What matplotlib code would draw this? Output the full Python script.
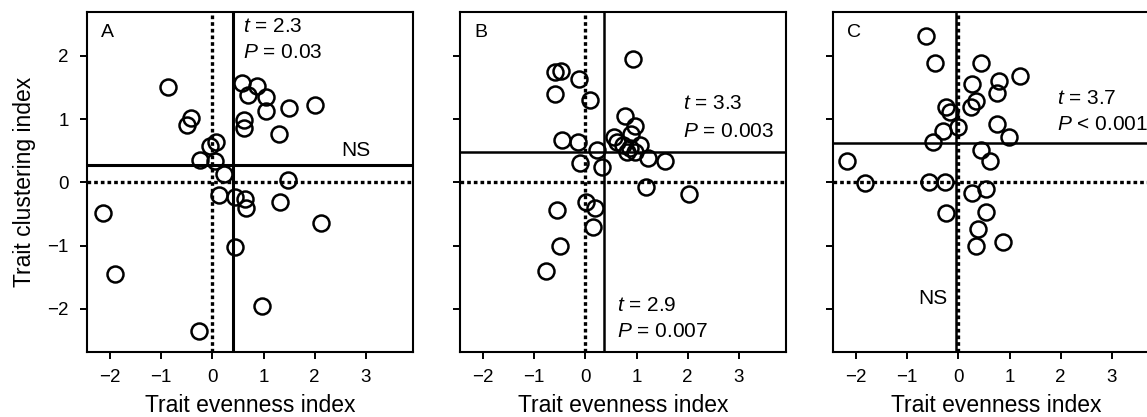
import numpy as np
import matplotlib
matplotlib.use("Agg")
import matplotlib.pyplot as plt

plt.rcParams['font.family'] = ['Liberation Sans', 'DejaVu Sans']
plt.rcParams['mathtext.fontset'] = 'custom'
plt.rcParams['mathtext.rm'] = 'Liberation Sans'
plt.rcParams['mathtext.it'] = 'Liberation Sans:italic'

# panel A
ax_x = [-0.86, -0.42, -0.50, -0.05, 0.07, -0.24, 0.05, 0.23, 0.12, 0.44,
        0.64, 0.66, 1.32, 1.48, 2.12, 0.44, -2.13, -1.91, -0.26, 0.96,
        0.57, 0.87, 0.70, 1.04, 1.04, 1.50, 2.01, 0.61, 0.62, 1.31]
ax_y = [1.51, 1.01, 0.91, 0.58, 0.64, 0.35, 0.33, 0.13, -0.20, -0.23,
        -0.26, -0.41, -0.31, 0.04, -0.65, -1.02, -0.49, -1.45, -2.35, -1.95,
        1.57, 1.52, 1.38, 1.35, 1.13, 1.18, 1.22, 0.98, 0.85, 0.76]
# panel B
bx_x = [0.94, -0.59, -0.48, -0.12, -0.59, 0.09, 0.77, 0.96, 0.90, 0.55,
        0.61, -0.46, -0.14, 0.22, 1.07, 0.81, 0.97, 0.74, 1.23, 1.56,
        -0.10, 0.32, 1.18, 2.03, 0.01, 0.19, -0.55, 0.14, -0.49, -0.76, 0.87]
bx_y = [1.95, 1.75, 1.76, 1.63, 1.39, 1.30, 1.04, 0.89, 0.77, 0.72,
        0.64, 0.67, 0.64, 0.51, 0.59, 0.48, 0.48, 0.59, 0.39, 0.34,
        0.31, 0.24, -0.07, -0.18, -0.31, -0.41, -0.44, -0.71, -1.01, -1.40, 0.54]
# panel C
cx_x = [-0.63, -0.46, 0.44, 1.20, 0.27, 0.80, 0.75, 0.35, 0.25, -0.24,
        -0.16, -0.01, -0.31, -0.50, 0.75, 0.98, 0.44, 0.61, -2.17, -1.82,
        -0.57, -0.26, 0.27, 0.54, -0.24, 0.53, 0.38, 0.35, 0.87]
cx_y = [2.31, 1.89, 1.88, 1.68, 1.56, 1.60, 1.41, 1.28, 1.19, 1.19,
        1.11, 0.88, 0.81, 0.63, 0.92, 0.72, 0.51, 0.34, 0.34, -0.01,
        0.01, 0.01, -0.17, -0.11, -0.48, -0.47, -0.74, -1.01, -0.95]

panel_letters = ['A', 'B', 'C']
vlines = [0.41, 0.37, -0.05]
hlines = [0.27, 0.48, 0.615]
xticks = [-2, -1, 0, 1, 2, 3]
yticks = [-2, -1, 0, 1, 2]

fig = plt.figure(figsize=(11.47, 4.17), dpi=100)
lefts = [87, 460, 833]
data = [(ax_x, ax_y), (bx_x, bx_y), (cx_x, cx_y)]
axes = []
for i, (l, (xs, ys)) in enumerate(zip(lefts, data)):
    ax = fig.add_axes([l / 1147, 65 / 417, 326 / 1147, 340 / 417])
    ax.axvline(0, color='k', lw=2.4, ls=(0, (1.1, 0.9)), zorder=1)
    ax.axhline(0, color='k', lw=2.4, ls=(0, (1.1, 0.9)), zorder=1)
    ax.axvline(vlines[i], color='k', lw=2.2 if i == 0 else 1.8, zorder=2)
    ax.axhline(hlines[i], color='k', lw=2.2 if i == 0 else 1.8, zorder=2)
    ax.plot(xs, ys, 'o', ms=11.5, mfc='none', mec='k', mew=1.8, zorder=3)
    ax.set_xlim(-2.45, 3.92)
    ax.set_ylim(-2.68, 2.69)
    ax.set_xticks(xticks)
    ax.set_yticks(yticks)
    ax.tick_params(direction='out', length=5, width=1.4, labelsize=13.5, pad=7)
    ax.tick_params(axis='y', pad=8)
    for s in ax.spines.values():
        s.set_linewidth(1.5)
    ax.set_xlabel('Trait evenness index', fontsize=16.5, labelpad=6)
    if i == 0:
        ax.set_ylabel('Trait clustering index', fontsize=16.5, labelpad=8)
    else:
        ax.set_yticklabels([])
    ax.text(-2.17, 2.36, panel_letters[i], fontsize=14, va='center')
    axes.append(ax)

fs = 15
a, b, c = axes
a.text(0.59, 2.46, '$t$ = 2.3', fontsize=fs, va='center')
a.text(0.59, 2.05, '$P$ = 0.03', fontsize=fs, va='center')
a.text(2.52, 0.5, 'NS', fontsize=fs, va='center')

b.text(1.91, 1.24, '$t$ = 3.3', fontsize=fs, va='center')
b.text(1.91, 0.80, '$P$ = 0.003', fontsize=fs, va='center')
b.text(0.62, -1.95, '$t$ = 2.9', fontsize=fs, va='center')
b.text(0.62, -2.36, '$P$ = 0.007', fontsize=fs, va='center')

c.text(1.93, 1.33, '$t$ = 3.7', fontsize=fs, va='center')
c.text(1.93, 0.92, '$P$ < 0.001', fontsize=fs, va='center')
c.text(-0.78, -1.83, 'NS', fontsize=fs, va='center')

fig.savefig('out.png', dpi=100)
